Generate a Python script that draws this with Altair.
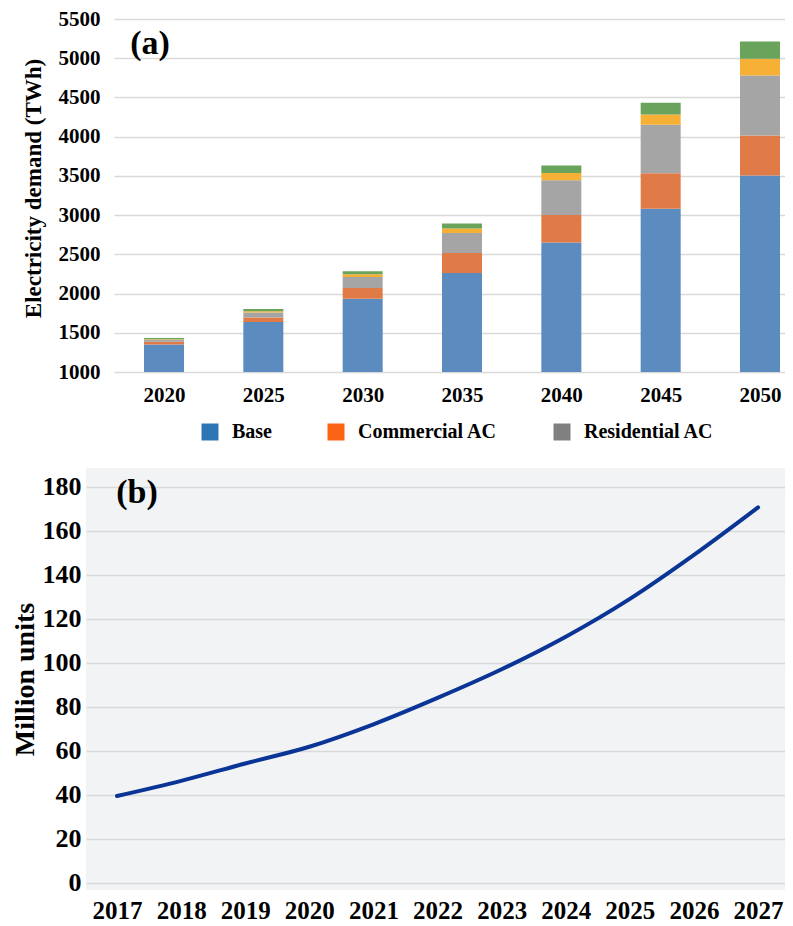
import altair as alt
import pandas as pd

# ---------------- Panel (a) data ----------------
years_a = [2020, 2025, 2030, 2035, 2040, 2045, 2050]
series_names = ["Base", "Commercial AC", "Residential AC", "Series 4", "Series 5"]
base = [1352, 1638, 1935, 2263, 2650, 3080, 3505]
commercial_ac = [34, 58, 136, 255, 353, 453, 510]
residential_ac = [26, 64, 141, 255, 441, 618, 765]
series4 = [6, 13, 33, 55, 94, 131, 213]
series5 = [16, 31, 38, 64, 93, 150, 220]
bar_colors = ["#5b8bbf", "#e07b47", "#a5a5a5", "#f5b035", "#6aa35b"]
legend_names = ["Base", "Commercial AC", "Residential AC"]
legend_colors = ["#2e75b6", "#fb6412", "#808080"]
ticks_a = [1000, 1500, 2000, 2500, 3000, 3500, 4000, 4500, 5000, 5500]

# ---------------- Panel (b) data ----------------
years_b = [2017, 2018, 2019, 2020, 2021, 2022, 2023, 2024, 2025, 2026, 2027]
units = [39.4, 46.3, 54.2, 61.8, 72.0, 84.0, 97.0, 111.8, 129.0, 149.0, 170.6]
ticks_b = [0, 20, 40, 60, 80, 100, 120, 140, 160, 180]

FONT = "Liberation Serif"
W = 699

rows = []
all_series = [base, commercial_ac, residential_ac, series4, series5]
for si, (name, vals) in enumerate(zip(series_names, all_series)):
    for y, v in zip(years_a, vals):
        rows.append({"year": y, "series": name, "idx": si, "value": v})
df_a = pd.DataFrame(rows)
df_leg = df_a[df_a["series"].isin(legend_names)]

x_a = alt.X(
    "year:Q",
    scale=alt.Scale(domain=[2017.483, 2051.258], range=[28, W], nice=False, zero=False, padding=0),
    axis=alt.Axis(values=years_a, format="d", title=None, grid=False, ticks=False,
                  domain=False, labelPadding=12, labelFontSize=21),
)
y_a = alt.Y(
    "value:Q",
    stack="zero",
    scale=alt.Scale(domain=[1000, 5500], nice=False, zero=False, padding=0),
    axis=alt.Axis(values=ticks_a, format="d", title="Electricity demand (TWh)", offset=-28,
                  ticks=False, domain=False, labelPadding=14, labelFontSize=21,
                  titleFontSize=23, titlePadding=13, titleY=169, grid=True),
)

bars = alt.Chart(df_a).mark_bar(size=40, clip=True).encode(
    x=x_a,
    y=y_a,
    color=alt.Color("series:N", scale=alt.Scale(domain=series_names, range=bar_colors), legend=None),
    order=alt.Order("idx:Q", sort="ascending"),
)

legend_layer = alt.Chart(df_leg).mark_square(opacity=0, size=1, clip=True).encode(
    x=x_a,
    y=y_a,
    fill=alt.Fill(
        "series:N",
        scale=alt.Scale(domain=legend_names, range=legend_colors),
        legend=alt.Legend(
            orient="none", legendX=114, legendY=403, direction="horizontal",
            title=None, symbolType="square", symbolSize=289, symbolOpacity=1,
            symbolStrokeWidth=0, labelFont=FONT, labelFontWeight="bold",
            labelFontSize=20, labelColor="black", labelOffset=12,
            columnPadding=54, padding=0,
        ),
    ),
)

label_a = alt.Chart(pd.DataFrame({"t": ["(a)"]})).mark_text(
    font=FONT, fontSize=34, fontWeight="bold", color="black",
    align="center", baseline="middle",
).encode(text="t:N", x=alt.value(64), y=alt.value(25))

panel_a = alt.layer(bars, legend_layer, label_a).properties(width=W, height=353)

# ---------------- Panel (b) ----------------
df_b = pd.DataFrame({"year": years_b, "units": units})

line = alt.Chart(df_b).mark_line(color="#0a3496", strokeWidth=4, interpolate="monotone",
                                 strokeCap="round").encode(
    x=alt.X("year:Q",
            scale=alt.Scale(domain=[2016.516, 2027.42], nice=False, zero=False),
            axis=alt.Axis(values=years_b, format="d", title=None, grid=False, ticks=False,
                          domain=False, labelFontSize=25, labelPadding=8)),
    y=alt.Y("units:Q",
            scale=alt.Scale(domain=[-3.3, 188.5], nice=False, zero=False),
            axis=alt.Axis(values=ticks_b, title="Million units", titleFontSize=28,
                          titlePadding=3, labelFontSize=26, labelPadding=5,
                          ticks=False, domain=False, grid=True)),
)

label_b = alt.Chart(pd.DataFrame({"t": ["(b)"]})).mark_text(
    font=FONT, fontSize=34, fontWeight="bold", color="black",
    align="center", baseline="middle",
).encode(text="t:N", x=alt.value(51), y=alt.value(25))

panel_b = alt.layer(line, label_b).properties(
    width=W, height=422,
    view=alt.ViewBackground(fill="#f2f3f5", strokeWidth=0),
)

chart = alt.vconcat(panel_a, panel_b, spacing=63).properties(
    padding={"left": 3, "top": 0, "right": 0, "bottom": 0}
).configure_view(
    strokeWidth=0
).configure_axis(
    labelFont=FONT, titleFont=FONT, labelFontWeight="bold", titleFontWeight="bold",
    labelColor="black", titleColor="black", gridColor="#d9d9d9", gridWidth=1.3,
)

chart.save("out.html", embed_options={"renderer": "svg", "actions": False})
